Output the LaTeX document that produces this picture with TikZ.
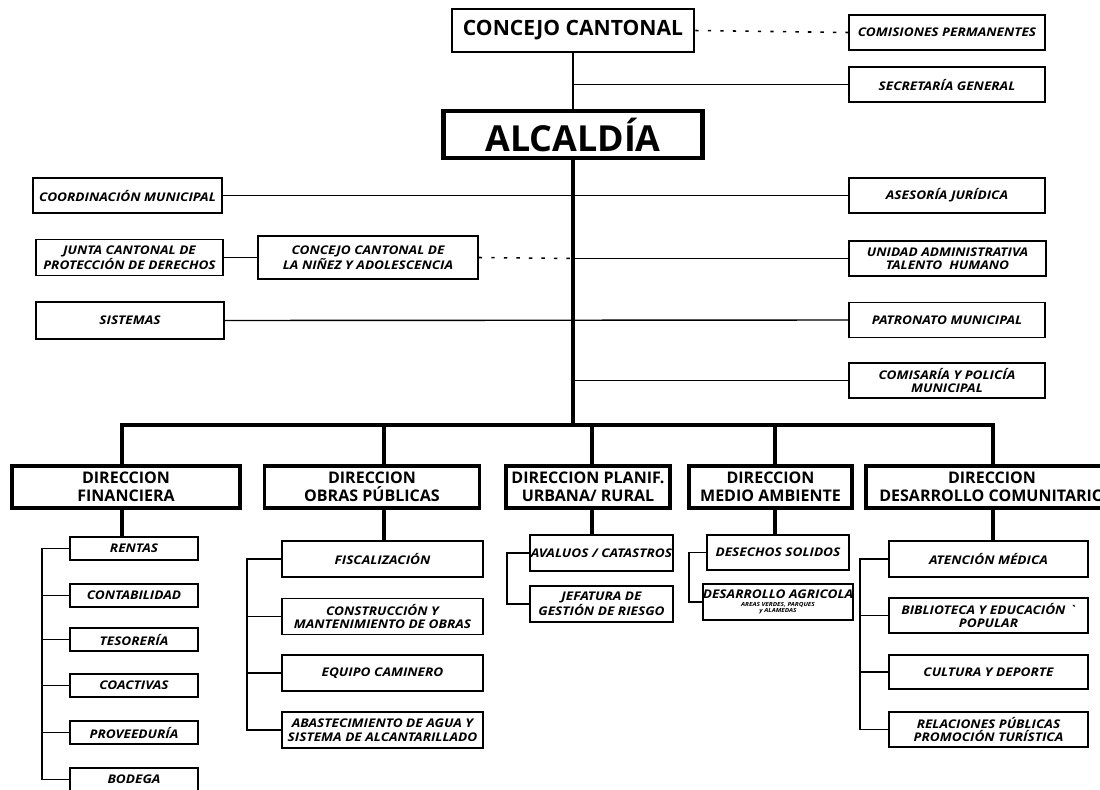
\documentclass[tikz,border=0pt]{standalone}
\usepackage{fontspec}
\setmainfont{Open Sans}
\newfontfamily\unitfont{Open Sans}[FakeStretch=1.14]
\begin{document}
\begin{tikzpicture}[x=0.025cm, y=-0.025cm,
  sz/.style 2 args={minimum width=#1*0.025cm, minimum height=#2*0.025cm},
  unit/.style={draw, line width=1.2pt, inner sep=0pt, align=center,
    font=\unitfont\fontsize{8.5}{9.6}\selectfont\bfseries\itshape},
  dir/.style={draw, line width=2.8pt, inner sep=0pt, align=center, sz={#1}{42},
    font=\fontsize{11.4}{12.8}\selectfont\bfseries},
  conn/.style={line width=1pt},
  spine/.style={line width=1.4pt},
  trunk/.style={line width=3pt},
  dots/.style={line width=1.1pt, dash pattern=on 2.4pt off 6.5pt}]
  \useasboundingbox (0,0) rectangle (1100,790);

  \node[draw, line width=1.8pt, sz={242}{43}, font=\fontsize{15}{17}\selectfont\bfseries]
    (concejo) at (573,30.5) {CONCEJO CANTONAL};
  \node[draw, line width=2.9pt, sz={259}{47}, font=\fontsize{25.5}{27}\selectfont\bfseries]
    (alcaldia) at (573,134.5) {ALCALDÍA};
  \node[unit, sz={196}{35}] (comisiones) at (947,32.5) {COMISIONES PERMANENTES};
  \node[unit, sz={196}{35}] (secretaria) at (947,84.5) {SECRETARÍA GENERAL};
  \node[unit, sz={189}{35}] (coordinacion) at (127.5,195.5) {COORDINACIÓN MUNICIPAL};
  \node[unit, sz={196}{35}] (asesoria) at (947,195.5) {ASESORÍA JURÍDICA};
  \node[unit, sz={187}{36}] (junta) at (129.5,257.5) {JUNTA CANTONAL DE\\PROTECCIÓN DE DERECHOS};
  \node[unit, sz={220}{43}] (ninez) at (368,257.5) {CONCEJO CANTONAL DE\\LA NIÑEZ Y ADOLESCENCIA};
  \node[unit, sz={197}{35}] (talento) at (947.5,258.5) {UNIDAD ADMINISTRATIVA\\TALENTO\ \ HUMANO};
  \node[unit, sz={188}{37}] (sistemas) at (130,320.5) {SISTEMAS};
  \node[unit, sz={196}{35}] (patronato) at (947,320) {PATRONATO MUNICIPAL};
  \node[unit, sz={196}{35}] (comisaria) at (947,380.5) {COMISARÍA Y POLICÍA\\MUNICIPAL};

  \node[dir=228] (financiera) at (126,487) {DIRECCION\\FINANCIERA};
  \node[dir=215] (obras) at (372,487) {DIRECCION\\OBRAS PÚBLICAS};
  \node[dir=164] (planif) at (588,487) {DIRECCION PLANIF.\\URBANA/ RURAL};
  \node[dir=163] (ambiente) at (770.5,487) {DIRECCION\\MEDIO AMBIENTE};
  \node[dir=252] (comunitario) at (992,487) {DIRECCION\\DESARROLLO COMUNITARIO};

  \node[unit, sz={128}{23}] (rentas) at (134,548.5) {RENTAS};
  \node[unit, sz={128}{23}] (contabilidad) at (134,595.5) {CONTABILIDAD};
  \node[unit, sz={128}{23}] (tesoreria) at (134,639.5) {TESORERÍA};
  \node[unit, sz={128}{23}] (coactivas) at (134,685.5) {COACTIVAS};
  \node[unit, sz={128}{23}] (proveeduria) at (134,732.5) {PROVEEDURÍA};
  \node[unit, sz={128}{23}] (bodega) at (134,779.5) {BODEGA};

  \node[unit, sz={201}{36}] (fiscalizacion) at (382.5,559) {FISCALIZACIÓN};
  \node[unit, sz={201}{36}] (construccion) at (382.5,616.5) {CONSTRUCCIÓN Y\\MANTENIMIENTO DE OBRAS};
  \node[unit, sz={201}{36}] (caminero) at (382.5,673) {EQUIPO CAMINERO};
  \node[unit, sz={201}{36}] (agua) at (382.5,730) {ABASTECIMIENTO DE AGUA Y\\SISTEMA DE ALCANTARILLADO};

  \node[unit, sz={143}{36}] (avaluos) at (601.5,553) {AVALUOS / CATASTROS};
  \node[unit, sz={143}{36}] (riesgo) at (601.5,604) {JEFATURA DE\\GESTIÓN DE RIESGO};

  \node[unit, sz={142}{35}] (desechos) at (778,552.5) {DESECHOS SOLIDOS};
  \node[unit, sz={142}{36}] (agricola) at (778,602)
    {DESARROLLO AGRICOLA\\[-3.8pt]{\fontsize{4}{4.4}\selectfont AREAS VERDES, PARQUES}\\[-5.2pt]{\fontsize{4}{4.4}\selectfont y ALAMEDAS}};

  \node[unit, sz={199}{36}] (medica) at (988.5,559) {ATENCIÓN MÉDICA};
  \node[unit, sz={199}{35}] (biblioteca) at (988.5,615.5) {BIBLIOTECA Y EDUCACIÓN \textasciigrave\\POPULAR};
  \node[unit, sz={199}{34}] (cultura) at (988.5,672) {CULTURA Y DEPORTE};
  \node[unit, sz={199}{35}] (relaciones) at (988.5,729.5) {RELACIONES PÚBLICAS\\PROMOCIÓN TURÍSTICA};

  \coordinate (bus) at (573,425);
  \coordinate (b1) at (122,425);
  \coordinate (b2) at (384,425);
  \coordinate (b3) at (592,425);
  \coordinate (b4) at (775,425);
  \coordinate (b5) at (993,425);
  \coordinate (s1) at (42,0);
  \coordinate (s2) at (247,0);
  \coordinate (s3) at (507,0);
  \coordinate (s4) at (689,0);
  \coordinate (s5) at (860,0);

  \draw[dots] (concejo.east) -- (comisiones.west);
  \draw[conn] (concejo.south) -- (alcaldia.north);
  \draw[conn] (concejo.south |- secretaria.west) -- (secretaria.west);
  \draw[conn] (coordinacion.east) -- (asesoria.west);
  \draw[conn] (junta.east) -- (ninez.west);
  \draw[dots] (ninez.east) -- (bus |- talento.west);
  \draw[conn] (bus |- talento.west) -- (talento.west);
  \draw[conn] (sistemas.east) -- (patronato.west);
  \draw[conn] (bus |- comisaria.west) -- (comisaria.west);
  \draw[trunk] (alcaldia.south) -- (bus);
  \draw[trunk, line cap=rect] (b1 |- financiera.north) -- (b1) -- (b5) -- (b5 |- comunitario.north);
  \draw[trunk] (b2) -- (b2 |- obras.north);
  \draw[trunk] (b3) -- (b3 |- planif.north);
  \draw[trunk] (b4) -- (b4 |- ambiente.north);

  \draw[trunk] (b1 |- financiera.south) -- (b1 |- rentas.north);
  \draw[trunk] (b2 |- obras.south) -- (b2 |- fiscalizacion.north);
  \draw[trunk] (b3 |- planif.south) -- (b3 |- avaluos.north);
  \draw[trunk] (b4 |- ambiente.south) -- (b4 |- desechos.north);
  \draw[trunk] (b5 |- comunitario.south) -- (b5 |- medica.north);

  \draw[spine] (rentas.west) -- (s1 |- rentas.west) -- (s1 |- bodega.west) -- (bodega.west);
  \foreach \n in {contabilidad, tesoreria, coactivas, proveeduria}
    \draw[spine] (s1 |- \n.west) -- (\n.west);
  \draw[spine] (fiscalizacion.west) -- (s2 |- fiscalizacion.west) -- (s2 |- agua.west) -- (agua.west);
  \foreach \n in {construccion, caminero}
    \draw[spine] (s2 |- \n.west) -- (\n.west);
  \draw[spine] (avaluos.west) -- (s3 |- avaluos.west) -- (s3 |- riesgo.west) -- (riesgo.west);
  \draw[spine] (desechos.west) -- (s4 |- desechos.west) -- (s4 |- agricola.west) -- (agricola.west);
  \draw[spine] (medica.west) -- (s5 |- medica.west) -- (s5 |- relaciones.west) -- (relaciones.west);
  \foreach \n in {biblioteca, cultura}
    \draw[spine] (s5 |- \n.west) -- (\n.west);
\end{tikzpicture}
\end{document}
